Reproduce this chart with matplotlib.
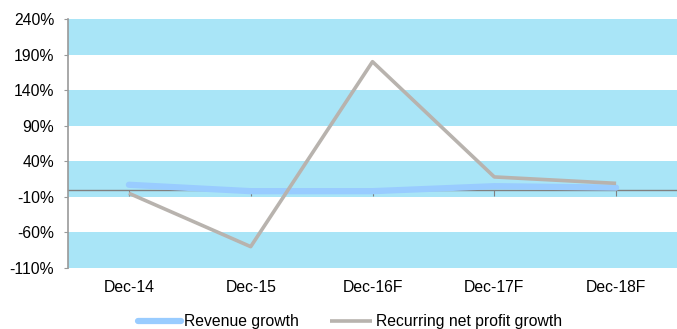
import numpy as np
import matplotlib
matplotlib.use("Agg")
import matplotlib.pyplot as plt
from matplotlib.transforms import blended_transform_factory

plt.rcParams['font.family'] = ['Liberation Sans', 'DejaVu Sans']

# Data (percent)
categories = ["Dec-14", "Dec-15", "Dec-16F", "Dec-17F", "Dec-18F"]
revenue_growth = [7, -2, -2, 5, 3]
net_profit_growth = [-5, -80, 180, 18, 9]
y_ticks = [-110, -60, -10, 40, 90, 140, 190, 240]

BAND = "#A9E5F7"
REV = "#99CCFF"
NPG = "#B8B3AE"
AXIS = "#999999"
FS = 11.3

fig = plt.figure(figsize=(6.77, 3.29), dpi=100)
ax = fig.add_axes([68 / 677, 1 - 268 / 329, 1 - 68 / 677, 249 / 329])

# alternating shaded bands between ticks
for lo, hi in zip(y_ticks[0::2], y_ticks[1::2]):
    ax.axhspan(lo, hi, color=BAND, lw=0, zorder=0)

x = np.arange(len(categories))
ax.plot(x, revenue_growth, color=REV, lw=4.5, solid_capstyle="round",
        label="Revenue growth", zorder=3)
ax.plot(x, net_profit_growth, color=NPG, lw=2.6, solid_capstyle="butt",
        label="Recurring net profit growth", zorder=4)

ax.set_xlim(-0.5, len(categories) - 0.5)
ax.set_ylim(y_ticks[0], y_ticks[-1])
ax.set_yticks(y_ticks)
ax.set_yticklabels([f"{t}%" for t in y_ticks])

# x axis line sits at zero, labels stay at the bottom
ax.spines["bottom"].set_position(("data", 0))
ax.spines["bottom"].set_color("#808080")
ax.spines["bottom"].set_linewidth(1.0)
ax.spines["bottom"].set_zorder(2)
ax.spines["top"].set_visible(False)
ax.spines["right"].set_visible(False)
ax.spines["left"].set_color(AXIS)
ax.spines["left"].set_linewidth(1.2)

ax.set_xticks(x)
ax.tick_params(axis="x", direction="out", length=4, color="#808080",
               labelbottom=False)
ax.tick_params(axis="y", direction="out", length=3, color=AXIS,
               labelsize=FS, pad=7)

trans = blended_transform_factory(ax.transData, ax.transAxes)
for xi, lab in zip(x, categories):
    ax.text(xi, -0.077, lab, transform=trans, ha="center", va="center",
            fontsize=FS)

leg = fig.legend(loc="center", bbox_to_anchor=(0.517, 0.022), ncol=2,
                 frameon=False, fontsize=FS, handlelength=2.7,
                 handletextpad=0.2, columnspacing=2.0)

fig.savefig("out.png", dpi=100)
